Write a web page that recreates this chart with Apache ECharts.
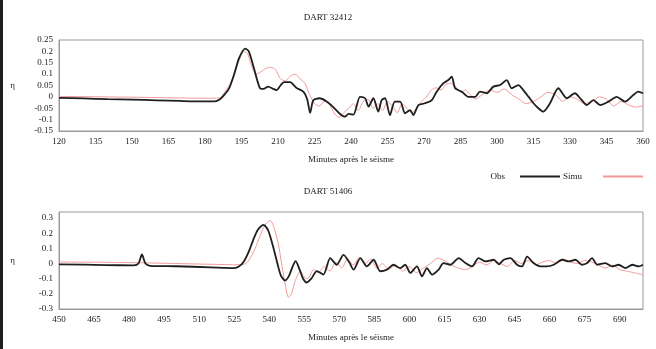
<!DOCTYPE html>
<html>
<head>
<meta charset="utf-8">
<script src="https://cdn.jsdelivr.net/npm/echarts@6/dist/echarts.min.js"></script>
<style>
  html, body { margin: 0; padding: 0; background: #fff; }
  #chart { width: 656px; height: 349px; }
  #edge { position: absolute; left: 0; top: 0; width: 3px; height: 349px; background: #1e1e1e; }
</style>
</head>
<body>
<div id="chart"></div>
<div id="edge"></div>
<script>
// DART 32412 — observed sea-surface elevation (minutes, eta)
const obsTime32412 = [120, 130, 140, 150, 160, 170, 180, 184, 186, 188, 190, 192, 194, 196.5, 198, 200, 202.5, 204, 206, 208, 209.5, 211, 212.5, 215, 217.5, 220.5, 222, 223.2, 224.5, 227, 230, 232.7, 235.5, 237.5, 239, 241, 243.7, 245.8, 247.2, 249.2, 251.2, 252.6, 254, 256, 258, 260.2, 262.2, 264.3, 265.6, 267.7, 270.4, 273.2, 275.2, 278, 280, 281.4, 282.8, 285.5, 288.2, 291, 293, 295.8, 298.5, 301.3, 304, 306, 308.8, 310.8, 313, 315, 317, 319, 321.8, 325.2, 328.7, 332, 334.5, 336.9, 339.6, 342.4, 345.8, 349.2, 352.6, 356, 358, 360];
const obsEta32412 = [-0.004, -0.007, -0.01, -0.012, -0.015, -0.018, -0.02, -0.02, -0.012, 0.01, 0.04, 0.1, 0.17, 0.212, 0.2, 0.13, 0.04, 0.035, 0.045, 0.035, 0.03, 0.05, 0.065, 0.065, 0.04, 0.022, -0.01, -0.07, -0.015, -0.006, -0.02, -0.045, -0.075, -0.087, -0.075, -0.078, 0.0, -0.006, -0.043, -0.006, -0.065, -0.014, -0.006, -0.08, -0.021, -0.021, -0.072, -0.058, -0.08, -0.036, -0.028, -0.014, 0.023, 0.06, 0.074, 0.089, 0.038, 0.023, 0.0, 0.0, 0.023, 0.016, 0.045, 0.052, 0.074, 0.038, 0.052, 0.03, 0.0, -0.028, -0.05, -0.065, -0.028, 0.038, -0.006, 0.016, -0.01, -0.036, -0.014, -0.036, -0.021, 0.0, -0.021, 0.008, 0.023, 0.016];

// DART 32412 — simulated
const simTime32412 = [120, 140, 160, 180, 186, 188, 190, 192, 194, 196, 197.5, 199, 201, 203, 205, 207, 209, 211, 213, 215, 217, 219, 221, 223, 225, 227, 229, 231, 233, 235, 237, 239, 241, 243, 245, 247, 249, 251, 253, 255, 257, 259, 261, 263, 265, 267, 269, 271, 273, 275, 277, 279, 281, 283, 285, 287, 289, 291, 294, 297, 300, 303, 306, 309, 312, 315, 318, 321, 324, 327, 330, 333, 336, 339, 342, 345, 348, 351, 354, 357, 360];
const simEta32412 = [0.002, 0.0, -0.003, -0.006, -0.005, 0.02, 0.05, 0.1, 0.16, 0.2, 0.19, 0.14, 0.1, 0.11, 0.125, 0.13, 0.12, 0.08, 0.07, 0.09, 0.1, 0.08, 0.06, 0.01, -0.03, -0.04, -0.02, -0.03, -0.07, -0.09, -0.07, -0.05, -0.03, -0.06, -0.02, -0.01, -0.05, -0.03, -0.06, -0.02, -0.04, -0.07, -0.03, -0.05, -0.07, -0.05, -0.02, 0.0, 0.03, 0.04, 0.03, 0.055, 0.06, 0.045, 0.02, 0.03, 0.01, -0.01, 0.01, 0.03, 0.02, 0.035, 0.01, -0.01, -0.03, -0.02, 0.0, 0.02, 0.01, -0.02, 0.0, -0.01, -0.03, -0.02, 0.0, -0.01, -0.04, -0.02, -0.035, -0.045, -0.04];

// DART 51406 — observed
const obsTime51406 = [450, 470, 482, 484, 485.5, 487, 489, 500, 515, 525, 527, 529, 531, 533, 535, 537.5, 539.5, 541.5, 543.5, 545, 546.8, 548.5, 550, 551.3, 553, 554.5, 556.1, 558, 560.4, 563.2, 566.1, 568.9, 571.8, 574.2, 576.1, 579, 581.8, 584.7, 587.5, 590.4, 593.2, 596.1, 598.2, 600.4, 603.2, 605.4, 607.5, 609.7, 612.5, 614.6, 617.5, 621.1, 624, 626.8, 629.6, 632.5, 636.1, 638.3, 640.4, 643.2, 646.1, 648.2, 650.4, 653.2, 656.1, 658.9, 661.8, 665.4, 668.2, 671.1, 673.9, 676.1, 678.2, 680.4, 683.9, 686.8, 689.6, 692.5, 695.4, 698.2, 700];
const obsEta51406 = [-0.005, -0.01, -0.012, 0.0, 0.06, 0.0, -0.015, -0.018, -0.025, -0.03, -0.02, 0.01, 0.07, 0.15, 0.22, 0.255, 0.22, 0.12, 0.0, -0.08, -0.112, -0.08, -0.02, 0.016, -0.04, -0.1, -0.125, -0.1, -0.05, -0.073, 0.036, -0.008, 0.057, 0.01, -0.04, 0.036, -0.019, 0.025, -0.051, -0.04, -0.008, -0.03, -0.008, -0.062, -0.019, -0.084, -0.03, -0.073, -0.04, 0.003, -0.008, 0.036, 0.003, -0.019, 0.036, 0.014, 0.025, -0.005, 0.025, 0.036, -0.008, -0.019, 0.046, 0.003, -0.019, -0.019, -0.008, 0.025, 0.014, 0.025, -0.008, 0.003, 0.036, -0.008, 0.003, -0.019, -0.008, -0.03, -0.008, -0.019, -0.008];

// DART 51406 — simulated
const simTime51406 = [450, 470, 485, 500, 515, 527, 530, 532, 534, 536, 538, 540.4, 542, 544, 545.5, 547, 548.2, 549.5, 551, 553.3, 555, 556.5, 559, 561, 563.5, 566, 568.5, 571, 573.5, 576, 578.5, 581, 583.5, 586, 588.5, 591, 594, 597, 600, 603, 606, 609, 612, 615, 618, 621, 624, 627, 630, 633, 636, 639, 642, 645, 648, 651, 654, 657, 660, 663, 666, 669, 672, 675, 678, 681, 684, 687, 690, 693, 696, 700];
const simEta51406 = [0.01, 0.008, 0.005, 0.0, -0.005, -0.008, 0.0, 0.04, 0.1, 0.18, 0.25, 0.285, 0.24, 0.12, -0.02, -0.15, -0.222, -0.2, -0.12, -0.05, -0.09, -0.1, -0.04, -0.06, -0.02, -0.05, 0.01, -0.03, 0.03, -0.01, 0.04, 0.0, 0.03, -0.03, 0.0, -0.04, -0.01, -0.05, -0.02, -0.06, -0.03, 0.0, 0.035, 0.02, -0.01, -0.03, -0.04, -0.02, 0.01, -0.01, 0.02, 0.0, -0.02, 0.02, 0.0, 0.02, -0.01, 0.01, 0.02, 0.0, 0.03, 0.01, 0.0, 0.02, 0.01, -0.01, -0.03, -0.01, -0.04, -0.05, -0.06, -0.075];

const titles = ['DART 32412', 'DART 51406'];
const xAxisName = 'Minutes après le séisme';
const seriesNames = ['Obs', 'Simu'];

const zip = (xs, ys) => xs.map((x, i) => [x, ys[i]]);
const serif = 'Liberation Serif, Times New Roman, serif';
const textColor = '#222';
const obsColor = '#1f1f1f';
const simColor = '#f29a9a';
const frameColor = '#9a9a9a';

const fmt = v => String(parseFloat(v.toFixed(2)));

function xAxis(idx, min, max) {
  return {
    type: 'value', gridIndex: idx, min: min, max: max, interval: 15,
    name: xAxisName, nameLocation: 'middle', nameGap: 24,
    nameTextStyle: { fontFamily: serif, fontSize: 9, color: textColor },
    axisLine: { show: true, onZero: false, lineStyle: { color: frameColor } },
    axisTick: { show: false },
    splitLine: { show: false },
    axisLabel: { fontFamily: serif, fontSize: 9, color: textColor, margin: 6, showMaxLabel: max % 15 === 0 }
  };
}
function yAxis(idx, min, max, interval, showMax) {
  return {
    type: 'value', gridIndex: idx, min: min, max: max, interval: interval,
    name: 'η', nameLocation: 'middle', nameRotate: 0, nameGap: 44,
    nameTextStyle: { fontFamily: serif, fontSize: 9, color: textColor },
    axisLine: { show: true, onZero: false, lineStyle: { color: frameColor } },
    axisTick: { show: false },
    splitLine: { show: false },
    axisLabel: { fontFamily: serif, fontSize: 9, color: textColor, margin: 6, showMaxLabel: showMax, formatter: fmt }
  };
}
function line(name, idx, data, color, width, z) {
  return {
    name: name, type: 'line', xAxisIndex: idx, yAxisIndex: idx, data: data,
    symbol: 'none', smooth: 0.25, z: z,
    lineStyle: { color: color, width: width }, itemStyle: { color: color }
  };
}

const chart = echarts.init(document.getElementById('chart'), null, { renderer: 'canvas' });
chart.setOption({
  animation: false,
  backgroundColor: '#fff',
  title: [
    { text: titles[0], left: 'center', top: 8, textStyle: { fontFamily: serif, fontSize: 9, fontWeight: 'normal', color: textColor } },
    { text: titles[1], left: 'center', top: 182, textStyle: { fontFamily: serif, fontSize: 9, fontWeight: 'normal', color: textColor } }
  ],
  legend: {
    data: [
      { name: seriesNames[0], textStyle: { padding: [0, 10, 0, 0] } },
      { name: seriesNames[1], textStyle: { padding: [0, 16, 0, 0] } }
    ],
    right: 8, top: 167, align: 'right', icon: 'rect',
    itemWidth: 40, itemHeight: 2, itemGap: 3,
    textStyle: { fontFamily: serif, fontSize: 9, color: textColor }
  },
  grid: [
    { left: 59, right: 13, top: 40, height: 91, show: true, borderColor: frameColor, borderWidth: 1, backgroundColor: '#fff' },
    { left: 59, right: 13, top: 212, height: 97, show: true, borderColor: frameColor, borderWidth: 1, backgroundColor: '#fff' }
  ],
  xAxis: [xAxis(0, 120, 360), xAxis(1, 450, 700)],
  yAxis: [yAxis(0, -0.15, 0.25, 0.05, true), yAxis(1, -0.3, 0.34, 0.1, false)],
  series: [
    line('Simu', 0, zip(simTime32412, simEta32412), simColor, 1, 2),
    line('Obs', 0, zip(obsTime32412, obsEta32412), obsColor, 1.8, 3),
    line('Simu', 1, zip(simTime51406, simEta51406), simColor, 1, 2),
    line('Obs', 1, zip(obsTime51406, obsEta51406), obsColor, 1.8, 3)
  ]
});
</script>
</body>
</html>
